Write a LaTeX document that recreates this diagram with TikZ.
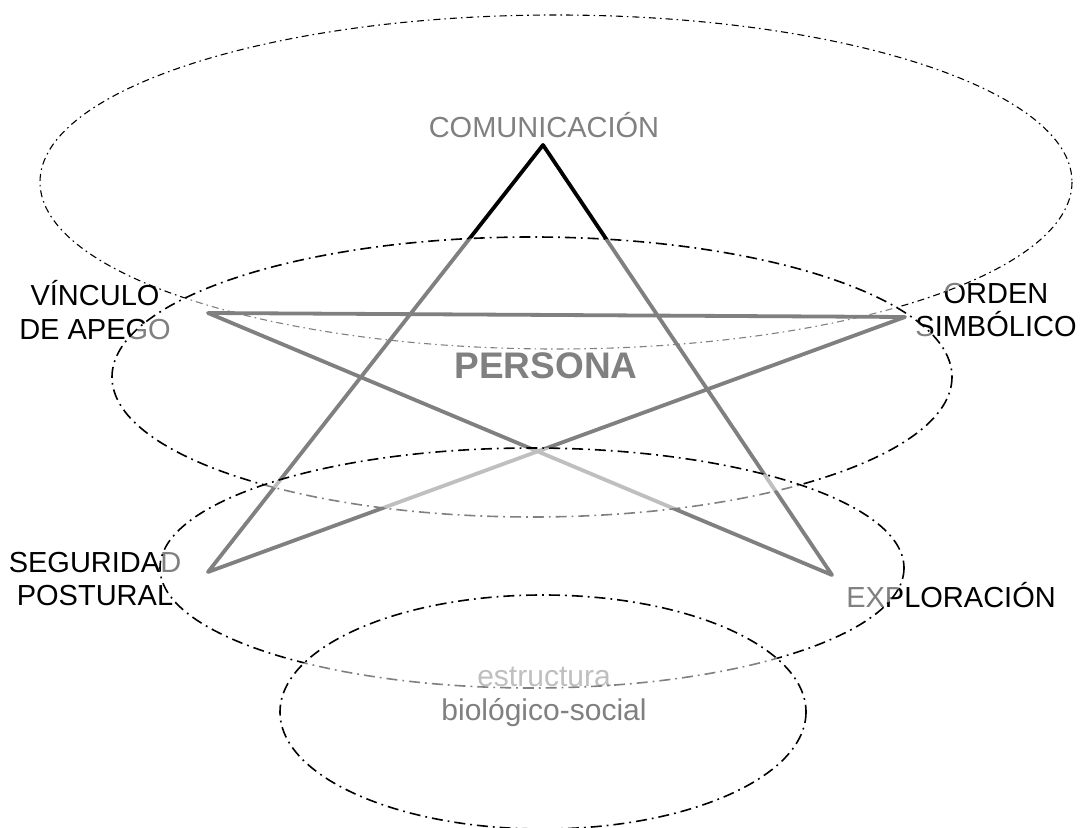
\documentclass[tikz,border=0pt]{standalone}
\usepackage{fontspec}
\setmainfont{Liberation Sans}
\usepackage{tikz}
\definecolor{trazo}{rgb}{0,0,0}
\definecolor{velo}{rgb}{1,1,1}
\tikzset{
  capa/.style={draw=trazo,line width=0.8pt,line cap=butt,dash pattern=on 5.5pt off 2.5pt on 0.9pt off 2.5pt,fill=velo,fill opacity=0.5},
  rotulo/.style={font=\fontsize{14.5}{16.8}\selectfont,align=center,inner sep=0pt,text=trazo}
}

\begin{document}
\begin{tikzpicture}[line cap=round,line join=round,x=0.5pt,y=-0.5pt]
\useasboundingbox (0,0) rectangle (1082,828);

% rotulos
\node[rotulo] (com) at (544,125) {COMUNICACIÓN};
\node[rotulo] (vin) at (95,310) {VÍNCULO\\DE APEGO};
\node[rotulo] (ord) at (996,310) {ORDEN\\SIMBÓLICO};
\node[rotulo] (seg) at (95,579) {SEGURIDAD\\POSTURAL};
\node[rotulo] (exp) at (951,595) {EXPLORACIÓN};
\node[rotulo,font=\fontsize{18.5}{20}\selectfont\bfseries] (per) at (546,366) {PERSONA};
\node[rotulo,font=\fontsize{15}{17}\selectfont] (est) at (544,697) {estructura\\biológico-social};

\draw[capa,line width=0.55pt,dash pattern=on 3.5pt off 2pt on 0.8pt off 2pt] (556,182) ellipse [x radius=516,y radius=167];

% estrella
\coordinate (pc) at (543,145);
\coordinate (pv) at (208,313);
\coordinate (po) at (905,317);
\coordinate (ps) at (208,572);
\coordinate (pe) at (832,575);
\draw[color=trazo,line width=1.9pt] (pc) -- (ps) -- (po) -- (pv) -- (pe) -- cycle;

\draw[capa] (532,377) ellipse [x radius=420,y radius=140];
\draw[capa] (532,568) ellipse [x radius=372,y radius=120];
\draw[capa] (543,712) ellipse [x radius=263,y radius=117];

\end{tikzpicture}
\end{document}
